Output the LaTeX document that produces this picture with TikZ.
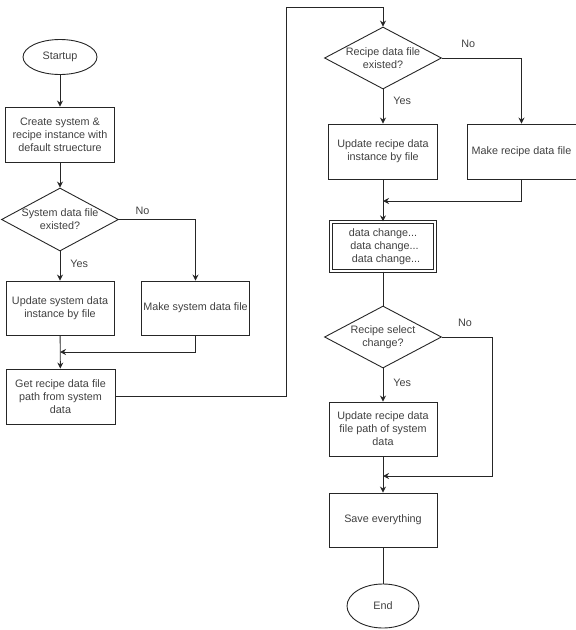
\documentclass[tikz,border=0pt]{standalone}
\usepackage{fontspec}
\setmainfont{Liberation Sans}
\usetikzlibrary{positioning,shapes.geometric,arrows.meta}

\begin{document}
\begin{tikzpicture}[x=1pt, y=-1pt, font=\fontsize{10.8}{13}\selectfont,
		line width=0.9pt,
		box/.style={draw=linegray, text=textgray, align=center, minimum width=108pt, minimum height=54pt, inner sep=2pt},
		terminal/.style={draw=linegray, text=textgray, ellipse, inner sep=0pt},
		decision/.style={draw=linegray, diamond, inner sep=0pt, minimum width=117pt, minimum height=63pt},
		arrow/.style={draw=linegray, -{Stealth[length=6pt,width=6pt]}},
		link/.style={draw=linegray},
		answer/.style={text=textgray}]
			% Define colors
			\definecolor{linegray}{HTML}{262626}
			\definecolor{textgray}{HTML}{404040}
			
			% Page frame
			\useasboundingbox (0,0) rectangle (576,630);
			
			% Left column
			\node[terminal, minimum width=74pt, minimum height=35pt] (startup) at (60,57) {Startup};
			\node[box, minimum width=109pt, minimum height=55pt] (create) at (60,134.5) {Create system \&\\recipe instance with\\default struecture};
			\node[decision, label={[text=textgray, align=center]center:System data file\\existed?}] (sysq) at (60,219.5) {};
			\node[box] (updsys) at (60,308) {Update system data\\instance by file};
			\node[box, minimum width=107pt] (mksys) at (195.5,308) {Make system data file};
			\node[box, minimum width=109pt, minimum height=55pt] (getpath) at (60.5,396.5) {Get recipe data file\\path from system\\data};
			
			% Right column
			\node[decision, minimum height=62pt, label={[text=textgray, align=center]center:Recipe data file\\existed?}] (recq) at (383,58) {};
			\node[box, minimum width=109pt, minimum height=55pt] (updrec) at (383,151.5) {Update recipe data\\instance by file};
			\node[box, minimum width=109pt, minimum height=55pt] (mkrec) at (521.5,151.5) {Make recipe data file};
			\node[box, double, double distance=2.2pt, line width=0.7pt, minimum width=104.5pt, minimum height=49.5pt] (datachg) at (383,246.5) {data change...\\\hspace*{3pt}data change...\\\hspace*{6pt}data change...};
			\node[decision, minimum height=62pt, label={[text=textgray, align=center]center:Recipe select\\change?}] (selq) at (383,337) {};
			\node[box] (updpath) at (383,429) {Update recipe data\\file path of system\\data};
			\node[box] (save) at (383,520) {Save everything};
			\node[terminal, minimum width=72pt, minimum height=44pt] (stop) at (383,606) {End};
			
			% Joints and turns
			\coordinate (join1) at (60,352);
			\coordinate (join2) at (383,201);
			\coordinate (join3) at (383,476);
			\coordinate (up2) at (286,7);
			
			% Connectors, left column
			\draw[arrow] (startup) -- (create);
			\draw[arrow] (create) -- (sysq);
			\draw[arrow] (sysq) -- node[answer, pos=0.43, right=6.5pt] {Yes} (updsys);
			\draw[arrow] (sysq.east) -| node[answer, pos=0.154, above=1pt] {No} (mksys.north);
			\draw[arrow] (mksys.south) |- (join1);
			\draw[arrow] (updsys) -- (getpath);
			\draw[arrow] (getpath.east) -| (up2) -| (recq.north);
			
			% Connectors, right column
			\draw[arrow] (recq) -- node[answer, pos=0.34, right=6.5pt] {Yes} (updrec);
			\draw[arrow] (recq.east) -| node[answer, pos=0.165, above=7pt] {No} (mkrec.north);
			\draw[arrow] (mkrec.south) |- (join2);
			\draw[arrow] (updrec) -- (datachg);
			\draw[link] (datachg) -- (selq);
			\draw[arrow] (selq) -- node[answer, pos=0.44, right=6.5pt] {Yes} (updpath);
			\draw[arrow] (selq.east) -- node[answer, pos=0.46, above=7pt] {No} ++(50,0) |- (join3);
			\draw[arrow] (updpath) -- (save);
			\draw[link] (save) -- (stop);
		\end{tikzpicture}
\end{document}
